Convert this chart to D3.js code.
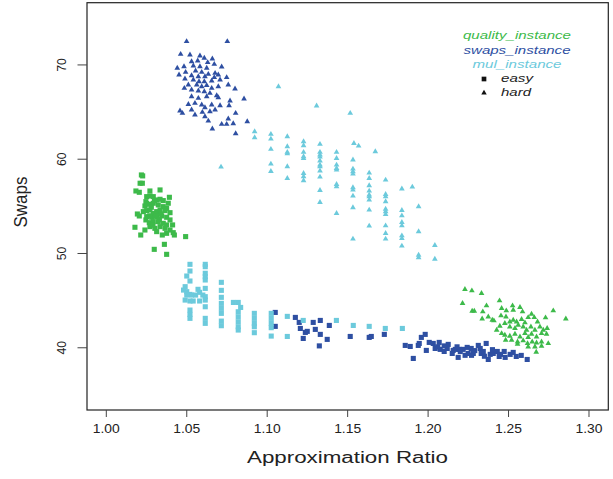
<!DOCTYPE html>
<html>
<head>
<meta charset="utf-8">
<script src="https://cdn.jsdelivr.net/npm/d3@7"></script>
<style>
  body { margin: 0; background: #fff; }
  text { font-family: "Liberation Sans", Arial, Helvetica, sans-serif; }
</style>
</head>
<body>
<div id="chart"></div>
<script>
// x = approximation ratio, y = swaps
const qualityEasy = [
  [1.0218,58.33],[1.0226,58.23],[1.0210,57.45],[1.0224,57.45],[1.0184,56.63],[1.0205,56.49],[1.0271,56.63],
  [1.0334,56.74],[1.0251,56.03],[1.0271,56.10],[1.0292,56.03],[1.0392,55.96],[1.0246,55.50],[1.0313,55.68],
  [1.0334,55.75],[1.0354,55.61],[1.0240,55.04],[1.0385,55.33],[1.0267,55.22],[1.0292,55.33],[1.0323,55.15],
  [1.0354,54.97],[1.0375,54.79],[1.0230,54.44],[1.0193,54.19],[1.0205,53.98],[1.0251,54.55],[1.0271,54.62],
  [1.0292,54.26],[1.0313,54.44],[1.0334,54.62],[1.0365,54.55],[1.0396,54.33],[1.0251,53.91],[1.0282,53.84],
  [1.0313,53.91],[1.0344,53.98],[1.0375,53.84],[1.0396,53.56],[1.0246,53.56],[1.0267,53.27],[1.0292,53.38],
  [1.0323,53.38],[1.0354,53.20],[1.0375,53.03],[1.0412,53.03],[1.0178,52.78],[1.0240,52.49],[1.0271,52.85],
  [1.0302,52.67],[1.0334,52.85],[1.0365,52.67],[1.0396,52.49],[1.0416,52.21],[1.0214,51.96],[1.0313,52.32],
  [1.0348,51.96],[1.0375,52.14],[1.0423,51.96],[1.0493,51.79],[1.0361,50.97],[1.0298,50.44],[1.0375,49.91],
  [1.0280,54.90],[1.0310,54.00],[1.0330,53.60],[1.0270,54.00],[1.0300,55.60],[1.0340,54.20],[1.0290,53.00],
  [1.0250,55.30]
];
const qualityHard = [
  [1.2229,46.20],[1.2272,46.05],[1.2332,45.77],[1.2214,44.71],[1.2274,43.90],[1.2287,43.90],[1.2340,43.83],
  [1.2363,44.46],[1.2444,44.99],[1.2457,44.18],[1.2486,43.93],[1.2525,44.46],[1.2529,44.00],[1.2571,44.29],
  [1.2587,43.83],[1.2336,43.08],[1.2374,43.29],[1.2399,42.94],[1.2409,42.87],[1.2453,43.40],[1.2484,43.29],
  [1.2508,42.76],[1.2529,42.94],[1.2550,42.76],[1.2581,43.01],[1.2602,42.66],[1.2622,43.22],[1.2643,43.58],
  [1.2660,43.22],[1.2680,42.76],[1.2730,43.19],[1.2778,43.93],[1.2856,43.08],[1.2426,41.88],[1.2446,42.30],
  [1.2477,42.59],[1.2508,42.23],[1.2540,42.06],[1.2560,42.41],[1.2591,42.23],[1.2612,41.88],[1.2639,42.23],
  [1.2664,41.88],[1.2695,42.23],[1.2716,41.88],[1.2740,42.06],[1.2457,41.52],[1.2477,41.35],[1.2508,41.24],
  [1.2540,41.45],[1.2571,41.17],[1.2602,41.52],[1.2622,41.10],[1.2643,41.45],[1.2674,41.17],[1.2705,41.52],
  [1.2736,41.45],[1.2482,40.82],[1.2519,40.82],[1.2556,40.64],[1.2591,40.75],[1.2618,40.46],[1.2647,40.64],
  [1.2674,40.53],[1.2705,40.64],[1.2747,40.46],[1.2556,40.39],[1.2622,40.11],[1.2664,40.11],[1.2705,40.18],
  [1.2672,39.54]
];
const swapsEasy = [
  [1.1050,43.75],[1.1050,42.27],[1.1175,43.22],[1.1199,42.69],[1.1206,42.05],[1.1237,41.63],[1.1249,41.74],
  [1.1224,40.99],[1.1286,42.69],[1.1299,41.95],[1.1330,42.90],[1.1330,41.42],[1.1386,42.37],[1.1373,40.89],
  [1.1324,40.20],[1.1516,41.20],[1.1634,41.10],[1.1647,41.20],[1.1728,41.42],[1.1858,40.25],[1.1889,40.14],
  [1.1908,38.87],[1.1939,40.25],[1.1945,40.46],[1.1958,41.10],[1.1982,41.42],[1.1989,39.72],[1.2007,40.57],
  [1.2032,40.46],[1.2044,39.93],[1.2069,40.57],[1.2075,39.83],[1.2100,39.61],[1.2119,39.93],[1.2125,40.36],
  [1.2156,39.72],[1.2169,39.83],[1.2187,38.98],[1.2193,39.83],[1.2218,39.83],[1.2243,40.04],[1.2249,39.40],
  [1.2268,39.93],[1.2281,39.40],[1.2312,40.25],[1.2324,39.93],[1.2343,39.61],[1.2361,40.46],[1.2374,38.76],
  [1.2386,39.30],[1.2405,39.40],[1.2430,39.61],[1.2442,39.08],[1.2473,39.61],[1.2479,38.98],[1.2510,39.30],
  [1.2529,39.51],[1.2548,39.08],[1.2579,39.19],[1.2616,38.76],[1.2100,40.20],[1.2150,39.40],[1.2200,39.60],
  [1.2230,39.20],[1.2290,39.70],[1.2330,39.40],[1.2400,39.80],[1.2450,39.30],[1.2060,40.10],[1.2180,40.10],
  [1.2270,39.20],[1.2350,39.10]
];
const swapsHard = [
  [1.0499,72.49],[1.0752,72.49],[1.0462,71.14],[1.0520,71.07],[1.0582,70.97],[1.0609,70.72],[1.0659,70.65],
  [1.0530,70.36],[1.0568,70.43],[1.0630,70.26],[1.0671,70.08],[1.0441,69.66],[1.0483,69.83],[1.0541,69.90],
  [1.0582,69.83],[1.0624,69.66],[1.0717,69.80],[1.0493,69.23],[1.0555,69.37],[1.0593,69.23],[1.0634,69.02],
  [1.0676,69.12],[1.0696,68.95],[1.0452,68.95],[1.0530,68.88],[1.0572,68.77],[1.0613,68.77],[1.0671,68.67],
  [1.0748,68.67],[1.0489,68.52],[1.0541,68.42],[1.0576,68.24],[1.0609,68.24],[1.0655,68.31],[1.0707,68.42],
  [1.0758,67.89],[1.0510,67.89],[1.0562,67.89],[1.0593,67.71],[1.0624,67.82],[1.0655,67.53],[1.0696,67.71],
  [1.0800,67.46],[1.0485,67.53],[1.0530,67.36],[1.0572,67.25],[1.0609,67.18],[1.0644,67.00],[1.0686,66.75],
  [1.0530,66.65],[1.0572,66.47],[1.0624,66.65],[1.0696,66.54],[1.0769,66.19],[1.0856,66.40],[1.0510,65.83],
  [1.0551,65.94],[1.0593,65.76],[1.0655,65.76],[1.0707,65.69],[1.0763,65.69],[1.0458,65.13],[1.0530,65.23],
  [1.0613,65.48],[1.0676,65.23],[1.0551,64.70],[1.0597,64.99],[1.0644,65.06],[1.0804,64.88],[1.0473,64.88],
  [1.0613,64.52],[1.0758,64.28],[1.0634,64.06],[1.0717,63.71],[1.0748,63.71],[1.0789,63.78],[1.0876,63.99],
  [1.0659,63.22],[1.0804,62.72]
];
const mulEasy = [
  [1.052,48.85],[1.052,48.14],[1.050,47.61],[1.052,47.08],[1.049,46.48],[1.048,46.12],[1.050,45.95],
  [1.052,45.66],[1.050,45.59],[1.053,45.59],[1.049,45.06],[1.052,44.96],[1.054,44.96],[1.0555,45.59],
  [1.057,46.20],[1.058,45.88],[1.058,44.96],[1.052,44.00],[1.052,43.54],[1.052,43.12],
  [1.0615,48.85],[1.0615,48.60],[1.0615,47.90],[1.0615,47.54],[1.0615,47.19],[1.0615,46.30],[1.060,45.59],
  [1.0615,45.42],[1.0615,45.06],[1.0615,44.35],[1.0615,43.12],[1.0615,42.59],
  [1.0715,46.94],[1.0715,46.09],[1.0715,45.35],[1.0715,44.71],[1.0715,44.18],[1.0715,43.65],[1.0715,42.83],
  [1.0715,42.34],
  [1.079,44.81],[1.082,44.81],[1.0835,44.28],[1.082,43.82],[1.082,43.29],[1.082,42.76],[1.082,42.23],[1.082,41.88],
  [1.092,43.65],[1.092,43.12],[1.092,42.59],[1.092,42.23],[1.092,41.60],
  [1.1025,43.65],[1.1025,43.12],[1.1025,42.59],[1.1025,42.13],[1.1025,41.24],
  [1.1125,43.33],[1.1125,41.20],[1.1224,42.90],[1.143,42.90],[1.1535,42.37],[1.1634,42.27],[1.1734,42.05],
  [1.184,42.05]
];
const mulHard = [
  [1.107,67.70],[1.1307,65.66],[1.1516,64.88],[1.0713,59.18],
  [1.0922,62.93],[1.0922,62.30],
  [1.1023,62.65],[1.1023,62.15],[1.1023,61.06],[1.1023,59.50],[1.1023,58.72],
  [1.1125,62.40],[1.1125,61.34],[1.1125,60.74],[1.1125,60.60],[1.1125,59.22],[1.1125,57.98],
  [1.1226,61.87],[1.1226,61.45],[1.1226,60.74],[1.1226,60.28],[1.1226,60.10],[1.1226,58.51],[1.1226,58.16],
  [1.1226,57.73],
  [1.1328,61.59],[1.1328,60.74],[1.1328,60.46],[1.1328,60.24],[1.1328,59.82],[1.1328,59.39],[1.1328,59.22],
  [1.1328,58.76],[1.1328,58.12],[1.1328,56.70],[1.1328,55.43],
  [1.1431,60.74],[1.1431,60.10],[1.1431,59.39],[1.1431,59.04],[1.1431,58.86],[1.1431,57.34],[1.1431,57.09],
  [1.1431,54.26],
  [1.1539,61.69],[1.1568,61.41],[1.1672,60.81],
  [1.1533,59.93],[1.1533,58.97],[1.1533,58.69],[1.1533,58.44],[1.1533,56.99],[1.1533,56.74],[1.1533,56.10],
  [1.1533,54.87],[1.1533,51.54],
  [1.1634,58.54],[1.1634,57.98],[1.1634,57.20],[1.1634,56.63],[1.1634,56.21],[1.1634,56.03],[1.1634,55.68],
  [1.1634,54.62],[1.1634,52.92],
  [1.1736,57.80],[1.1736,56.28],[1.1736,56.03],[1.1736,55.50],[1.1736,54.72],[1.1736,54.44],[1.1736,54.16],
  [1.1736,52.95],[1.1736,52.14],[1.1736,51.54],
  [1.1837,56.85],[1.1837,54.58],[1.1837,54.01],[1.1837,53.31],[1.1837,52.95],[1.1837,51.89],[1.1837,51.61],
  [1.1837,50.80],[1.1902,57.06],
  [1.1941,54.97],[1.1941,52.32],[1.1941,49.84],[1.1941,49.56],
  [1.2042,50.86],[1.2042,49.41]
];

const xTicks = [1.00, 1.05, 1.10, 1.15, 1.20, 1.25, 1.30];
const yTicks = [40, 50, 60, 70];
const seriesNames = ["quality_instance", "swaps_instance", "mul_instance"];
const shapeNames = ["easy", "hard"];

(function swapsChart() {
  const width = 613, height = 479;
  const green = "#3dba4a", navy = "#2e4fa2", cyan = "#6ccadc";

  const svg = d3.select("#chart")
    .append("svg")
    .attr("width", width)
    .attr("height", height)
    .attr("viewBox", [0, 0, width, height]);

  // plot box: R style, 4% padding around xlim = 1..1.3, ylim = 35..75
  const x = d3.scaleLinear().domain([0.988, 1.312]).range([87, 608.3]);
  const y = d3.scaleLinear().domain([33.4, 76.6]).range([410, 2.7]);

  svg.append("rect")
    .attr("x", x(0.988)).attr("y", y(76.6))
    .attr("width", x(1.312) - x(0.988))
    .attr("height", y(33.4) - y(76.6))
    .attr("fill", "none")
    .attr("stroke", "#222")
    .attr("stroke-width", 1.2);

  // x axis
  const xg = svg.append("g");
  xg.selectAll("line")
    .data(xTicks)
    .join("line")
    .attr("x1", d => x(d)).attr("x2", d => x(d))
    .attr("y1", 410).attr("y2", 417)
    .attr("stroke", "#444");
  xg.selectAll("text")
    .data(xTicks)
    .join("text")
    .attr("x", d => x(d))
    .attr("y", 433)
    .attr("text-anchor", "middle")
    .attr("font-size", 12.5)
    .attr("textLength", 27)
    .attr("lengthAdjust", "spacingAndGlyphs")
    .attr("fill", "#222")
    .text(d => d3.format(".2f")(d));

  // y axis
  const yg = svg.append("g");
  yg.selectAll("line")
    .data(yTicks)
    .join("line")
    .attr("x1", 77.5).attr("x2", 87)
    .attr("y1", d => y(d)).attr("y2", d => y(d))
    .attr("stroke", "#444");
  yg.selectAll("text")
    .data(yTicks)
    .join("text")
    .attr("transform", d => `translate(66,${y(d)}) rotate(-90)`)
    .attr("text-anchor", "middle")
    .attr("font-size", 13)
    .attr("textLength", 13.5)
    .attr("lengthAdjust", "spacingAndGlyphs")
    .attr("fill", "#222")
    .text(d => d);

  svg.append("text")
    .attr("x", 347.5).attr("y", 462.7)
    .attr("text-anchor", "middle")
    .attr("font-size", 16)
    .attr("textLength", 201)
    .attr("lengthAdjust", "spacingAndGlyphs")
    .attr("fill", "#222")
    .text("Approximation Ratio");

  svg.append("text")
    .attr("transform", "translate(26.7,202) rotate(-90)")
    .attr("text-anchor", "middle")
    .attr("font-size", 18.5)
    .attr("textLength", 51)
    .attr("lengthAdjust", "spacingAndGlyphs")
    .attr("fill", "#222")
    .text("Swaps");

  const square = d3.symbol(d3.symbolSquare, 26);
  const triangle = d3.symbol(d3.symbolTriangle, 14);

  const groups = [
    { data: qualityEasy, color: green, shape: square },
    { data: qualityHard, color: green, shape: triangle },
    { data: swapsHard, color: navy, shape: triangle },
    { data: swapsEasy, color: navy, shape: square },
    { data: mulEasy, color: cyan, shape: square },
    { data: mulHard, color: cyan, shape: triangle }
  ];

  groups.forEach(g => {
    svg.append("g")
      .selectAll("path")
      .data(g.data)
      .join("path")
      .attr("transform", d => `translate(${x(d[0])},${y(d[1])})`)
      .attr("d", g.shape)
      .attr("fill", g.color);
  });

  // legend
  const legend = svg.append("g");
  const legendColors = [green, navy, cyan];
  const legendLens = [108, 107, 89];
  legend.selectAll("text.series")
    .data(seriesNames)
    .join("text")
    .attr("class", "series")
    .attr("x", 517)
    .attr("y", (d, i) => 39.3 + i * 14.2)
    .attr("text-anchor", "middle")
    .attr("font-size", 11.5)
    .attr("font-style", "italic")
    .attr("textLength", (d, i) => legendLens[i])
    .attr("lengthAdjust", "spacingAndGlyphs")
    .attr("fill", (d, i) => legendColors[i])
    .text(d => d);

  legend.selectAll("path")
    .data(shapeNames)
    .join("path")
    .attr("transform", (d, i) => `translate(484,${79 + i * 14})`)
    .attr("d", (d, i) => i === 0 ? d3.symbol(d3.symbolSquare, 22)() : d3.symbol(d3.symbolTriangle, 13)())
    .attr("fill", "#111");

  legend.selectAll("text.shape")
    .data(shapeNames)
    .join("text")
    .attr("class", "shape")
    .attr("x", 501)
    .attr("y", (d, i) => 81.7 + i * 14.3)
    .attr("font-size", 11.5)
    .attr("font-style", "italic")
    .attr("textLength", (d, i) => i === 0 ? 32 : 30)
    .attr("lengthAdjust", "spacingAndGlyphs")
    .attr("fill", "#222")
    .text(d => d);
})();
</script>
</body>
</html>
